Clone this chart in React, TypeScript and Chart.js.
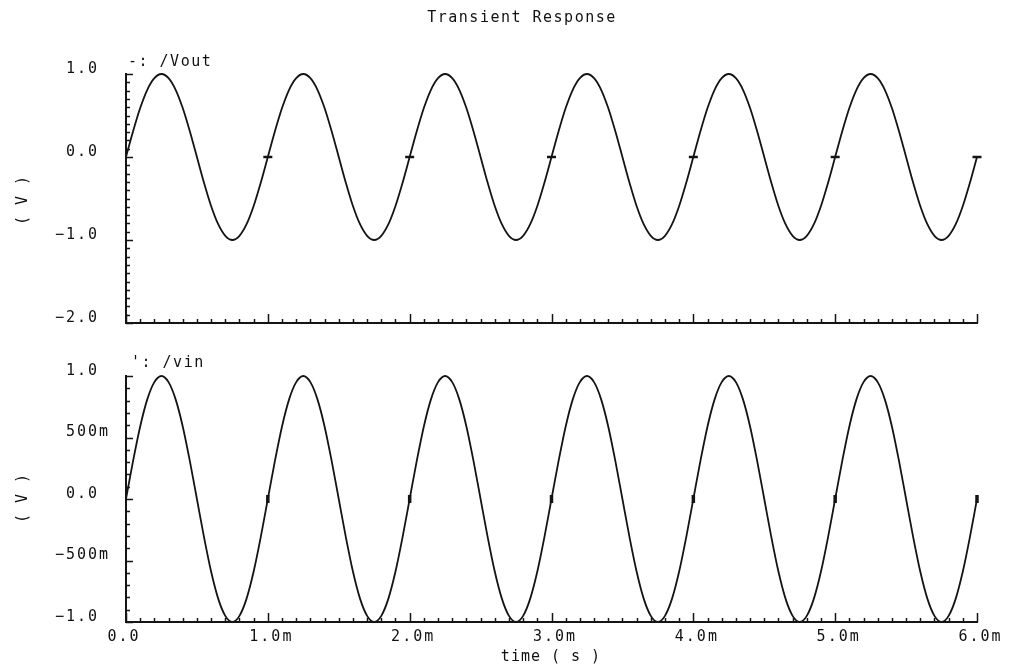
import React, { useEffect, useRef } from "react";
import { Chart, registerables } from "chart.js";

Chart.register(...registerables);

// time axis samples, in milliseconds
const timesMs = [
  0, 0.05, 0.1, 0.15, 0.2, 0.25, 0.3, 0.35, 0.4, 0.45, 0.5, 0.55, 0.6, 0.65, 0.7, 0.75, 0.8, 0.85, 0.9, 0.95,
  1, 1.05, 1.1, 1.15, 1.2, 1.25, 1.3, 1.35, 1.4, 1.45, 1.5, 1.55, 1.6, 1.65, 1.7, 1.75, 1.8, 1.85, 1.9, 1.95,
  2, 2.05, 2.1, 2.15, 2.2, 2.25, 2.3, 2.35, 2.4, 2.45, 2.5, 2.55, 2.6, 2.65, 2.7, 2.75, 2.8, 2.85, 2.9, 2.95,
  3, 3.05, 3.1, 3.15, 3.2, 3.25, 3.3, 3.35, 3.4, 3.45, 3.5, 3.55, 3.6, 3.65, 3.7, 3.75, 3.8, 3.85, 3.9, 3.95,
  4, 4.05, 4.1, 4.15, 4.2, 4.25, 4.3, 4.35, 4.4, 4.45, 4.5, 4.55, 4.6, 4.65, 4.7, 4.75, 4.8, 4.85, 4.9, 4.95,
  5, 5.05, 5.1, 5.15, 5.2, 5.25, 5.3, 5.35, 5.4, 5.45, 5.5, 5.55, 5.6, 5.65, 5.7, 5.75, 5.8, 5.85, 5.9, 5.95,
  6,
];

// /Vout (V)
const voutValues = [
  0, 0.31, 0.59, 0.81, 0.95, 1, 0.95, 0.81, 0.59, 0.31, 0, -0.31, -0.59, -0.81, -0.95, -1, -0.95, -0.81, -0.59, -0.31,
  0, 0.31, 0.59, 0.81, 0.95, 1, 0.95, 0.81, 0.59, 0.31, 0, -0.31, -0.59, -0.81, -0.95, -1, -0.95, -0.81, -0.59, -0.31,
  0, 0.31, 0.59, 0.81, 0.95, 1, 0.95, 0.81, 0.59, 0.31, 0, -0.31, -0.59, -0.81, -0.95, -1, -0.95, -0.81, -0.59, -0.31,
  0, 0.31, 0.59, 0.81, 0.95, 1, 0.95, 0.81, 0.59, 0.31, 0, -0.31, -0.59, -0.81, -0.95, -1, -0.95, -0.81, -0.59, -0.31,
  0, 0.31, 0.59, 0.81, 0.95, 1, 0.95, 0.81, 0.59, 0.31, 0, -0.31, -0.59, -0.81, -0.95, -1, -0.95, -0.81, -0.59, -0.31,
  0, 0.31, 0.59, 0.81, 0.95, 1, 0.95, 0.81, 0.59, 0.31, 0, -0.31, -0.59, -0.81, -0.95, -1, -0.95, -0.81, -0.59, -0.31,
  0,
];

// /vin (V)
const vinValues = [
  0, 0.31, 0.59, 0.81, 0.95, 1, 0.95, 0.81, 0.59, 0.31, 0, -0.31, -0.59, -0.81, -0.95, -1, -0.95, -0.81, -0.59, -0.31,
  0, 0.31, 0.59, 0.81, 0.95, 1, 0.95, 0.81, 0.59, 0.31, 0, -0.31, -0.59, -0.81, -0.95, -1, -0.95, -0.81, -0.59, -0.31,
  0, 0.31, 0.59, 0.81, 0.95, 1, 0.95, 0.81, 0.59, 0.31, 0, -0.31, -0.59, -0.81, -0.95, -1, -0.95, -0.81, -0.59, -0.31,
  0, 0.31, 0.59, 0.81, 0.95, 1, 0.95, 0.81, 0.59, 0.31, 0, -0.31, -0.59, -0.81, -0.95, -1, -0.95, -0.81, -0.59, -0.31,
  0, 0.31, 0.59, 0.81, 0.95, 1, 0.95, 0.81, 0.59, 0.31, 0, -0.31, -0.59, -0.81, -0.95, -1, -0.95, -0.81, -0.59, -0.31,
  0, 0.31, 0.59, 0.81, 0.95, 1, 0.95, 0.81, 0.59, 0.31, 0, -0.31, -0.59, -0.81, -0.95, -1, -0.95, -0.81, -0.59, -0.31,
  0,
];

// marker symbols on each trace
const markerTimes = [1, 2, 3, 4, 5, 6];
const voutMarkerValues = [0, 0, 0, 0, 0, 0];
const vinMarkerValues = [0, 0, 0, 0, 0, 0];

// axis ticks
const xTickValues = [0, 1, 2, 3, 4, 5, 6];
const xTickLabels = ["0.0", "1.0m", "2.0m", "3.0m", "4.0m", "5.0m", "6.0m"];
const voutTickValues = [1, 0, -1, -2];
const voutTickLabels = ["1.0", "0.0", "\u22121.0", "\u22122.0"];
const vinTickValues = [1, 0.5, 0, -0.5, -1];
const vinTickLabels = ["1.0", "500m", "0.0", "\u2212500m", "\u22121.0"];

const FONT = '"DejaVu Sans Mono", "Liberation Mono", monospace';
const INK = "#141414";
const TEXT = "#111111";

function splitLabel(s: string): [string, string] {
  const m = s.match(/^(.*?)(m?)$/);
  return m ? [m[1], m[2]] : [s, ""];
}

type DecorCfg = {
  yMin: number;
  yMax: number;
  yMajor: number;
  yTickValues: number[];
  yTickLabels: string[];
  showXLabels: boolean;
  title?: { text: string; x: number; y: number };
  seriesLabel: { text: string; x: number; y: number };
  yTitleY: number;
  xTitle?: { text: string; x: number; y: number };
};

function makeDecor(cfg: DecorCfg) {
  return {
    id: "decor",
    afterDraw(chart: any) {
      const ctx = chart.ctx as CanvasRenderingContext2D;
      const { left, right, top, bottom } = chart.chartArea;
      const xs = chart.scales.x;
      const ys = chart.scales.y;
      ctx.save();
      // axis lines
      ctx.strokeStyle = INK;
      ctx.lineWidth = 2;
      ctx.beginPath();
      ctx.moveTo(left, top - 1);
      ctx.lineTo(left, bottom);
      ctx.lineTo(right + 1, bottom);
      ctx.stroke();
      // x ticks (inward)
      ctx.lineWidth = 1.5;
      ctx.beginPath();
      for (let i = 0; i <= 60; i++) {
        const px = Math.round(xs.getPixelForValue(i / 10)) + 0.5;
        const len = i % 10 === 0 ? 9 : 4;
        ctx.moveTo(px, bottom);
        ctx.lineTo(px, bottom - len);
      }
      // y ticks (inward)
      const nSteps = Math.round((cfg.yMax - cfg.yMin) * 10);
      const majorEvery = Math.round(cfg.yMajor * 10);
      for (let i = 0; i <= nSteps; i++) {
        const v = cfg.yMin + i / 10;
        const py = Math.round(ys.getPixelForValue(v)) + 0.5;
        const len = i % majorEvery === 0 ? 7 : 4;
        ctx.moveTo(left, py);
        ctx.lineTo(left + len, py);
      }
      ctx.stroke();

      // texts
      ctx.fillStyle = TEXT;
      ctx.font = `15px ${FONT}`;
      (ctx as any).letterSpacing = "2px";
      ctx.textBaseline = "middle";
      // y tick labels: numeric part right aligned, unit suffix hanging
      cfg.yTickValues.forEach((v, i) => {
        const py = ys.getPixelForValue(v) - 5;
        const [num, suf] = splitLabel(cfg.yTickLabels[i]);
        ctx.textAlign = "right";
        ctx.fillText(num, 99, py);
        if (suf) {
          ctx.textAlign = "left";
          ctx.fillText(suf, 99, py);
        }
      });
      if (cfg.showXLabels) {
        xTickValues.forEach((v, i) => {
          const px = xs.getPixelForValue(v);
          const [num, suf] = splitLabel(xTickLabels[i]);
          const w = ctx.measureText(num).width;
          ctx.textAlign = "left";
          ctx.fillText(num, px - w / 2 - 2, bottom + 15);
          if (suf) ctx.fillText(suf, px + w / 2 - 2, bottom + 15);
        });
      }
      (ctx as any).letterSpacing = "1.5px";
      ctx.textAlign = "left";
      ctx.fillText(cfg.seriesLabel.text, cfg.seriesLabel.x, cfg.seriesLabel.y);
      if (cfg.title) {
        ctx.textAlign = "center";
        ctx.fillText(cfg.title.text, cfg.title.x, cfg.title.y);
      }
      if (cfg.xTitle) {
        (ctx as any).letterSpacing = "1px";
        ctx.textAlign = "center";
        ctx.fillText(cfg.xTitle.text, cfg.xTitle.x, cfg.xTitle.y);
      }
      // rotated y title
      (ctx as any).letterSpacing = "1px";
      ctx.translate(23, cfg.yTitleY);
      ctx.rotate(-Math.PI / 2);
      ctx.textAlign = "center";
      ctx.fillText("( V )", 0, 0);
      ctx.restore();
    },
  };
}

function buildChart(
  canvas: HTMLCanvasElement,
  values: number[],
  markerValues: number[],
  markerRotation: number,
  markerRadius: number,
  markerWidth: number,
  yMin: number,
  yMax: number,
  yStep: number,
  padTop: number,
  xHeight: number,
  decor: any
) {
  return new Chart(canvas, {
    type: "line",
    data: {
      datasets: [
        {
          data: timesMs.map((t, i) => ({ x: t, y: values[i] })),
          borderColor: INK,
          borderWidth: 1.8,
          pointRadius: 0,
          cubicInterpolationMode: "monotone",
          fill: false,
          clip: 6,
        } as any,
        {
          type: "scatter",
          data: markerTimes.map((t, i) => ({ x: t, y: markerValues[i] })),
          pointStyle: "line",
          rotation: markerRotation,
          pointRadius: markerRadius,
          borderWidth: markerWidth,
          borderColor: INK,
          backgroundColor: INK,
          showLine: false,
          clip: 10,
        } as any,
      ],
    },
    options: {
      animation: false,
      responsive: false,
      devicePixelRatio: 1,
      events: [],
      layout: { padding: { top: padTop, left: 0, right: 41, bottom: 0 } },
      plugins: { legend: { display: false }, tooltip: { enabled: false }, title: { display: false } },
      scales: {
        x: {
          type: "linear",
          min: 0,
          max: 6,
          grid: { display: false },
          border: { display: false },
          ticks: { display: false, stepSize: 1 },
          afterFit: (s: any) => {
            s.height = xHeight;
          },
        },
        y: {
          type: "linear",
          min: yMin,
          max: yMax,
          grid: { display: false },
          border: { display: false },
          ticks: { display: false, stepSize: yStep },
          afterFit: (s: any) => {
            s.width = 126;
          },
        },
      },
    } as any,
    plugins: [decor],
  });
}

export default function App() {
  const topRef = useRef<HTMLCanvasElement>(null);
  const botRef = useRef<HTMLCanvasElement>(null);

  useEffect(() => {
    const top = buildChart(
      topRef.current!,
      voutValues,
      voutMarkerValues,
      0,
      4.5,
      2.5,
      -2,
      1,
      1,
      74,
      22,
      makeDecor({
        yMin: -2,
        yMax: 1,
        yMajor: 1,
        yTickValues: voutTickValues,
        yTickLabels: voutTickLabels,
        showXLabels: false,
        title: { text: "Transient Response", x: 522, y: 18 },
        seriesLabel: { text: "-: /Vout", x: 128, y: 62 },
        yTitleY: 200,
      })
    );
    const bot = buildChart(
      botRef.current!,
      vinValues,
      vinMarkerValues,
      90,
      4,
      3.5,
      -1,
      1,
      0.5,
      31,
      47,
      makeDecor({
        yMin: -1,
        yMax: 1,
        yMajor: 0.5,
        yTickValues: vinTickValues,
        yTickLabels: vinTickLabels,
        showXLabels: true,
        seriesLabel: { text: "': /vin", x: 131, y: 18 },
        yTitleY: 153,
        xTitle: { text: "time ( s )", x: 551, y: 312 },
      })
    );
    return () => {
      top.destroy();
      bot.destroy();
    };
  }, []);

  return (
    <div style={{ position: "fixed", left: 0, top: 0, width: 1018, height: 669, background: "#ffffff" }}>
      <canvas ref={topRef} width={1018} height={345} style={{ position: "absolute", left: 0, top: 0 }} />
      <canvas ref={botRef} width={1018} height={324} style={{ position: "absolute", left: 0, top: 345 }} />
    </div>
  );
}
